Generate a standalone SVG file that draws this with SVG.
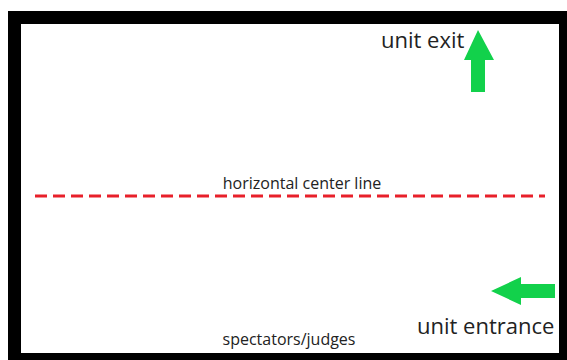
<svg xmlns="http://www.w3.org/2000/svg" width="567" height="360" viewBox="0 0 567 360">
  <style>
    .lbl { font-family: "Open Sans", "Liberation Sans", sans-serif; fill: #222222; }
    .big { font-size: 22px; }
    .small { font-size: 16px; }
    .arrow { fill: #12D14B; }
  </style>
  <rect x="0" y="0" width="567" height="360" fill="#ffffff"/>
  <g id="frame">
    <rect x="8" y="11" width="570" height="360" fill="#000000"/>
    <rect x="21" y="24" width="538" height="329" fill="#ffffff"/>
  </g>
  <g id="center-line">
    <line x1="35" y1="196" x2="545" y2="196" stroke="#E8202A" stroke-width="3" stroke-dasharray="12 6"/>
    <text class="lbl small" x="302" y="189" text-anchor="middle">horizontal center line</text>
  </g>
  <g id="unit-exit">
    <polygon class="arrow" points="478,30 494,60 485,60 485,92 471,92 471,60 464,60"/>
    <text class="lbl big" x="381" y="48">unit exit</text>
  </g>
  <g id="unit-entrance">
    <polygon class="arrow" points="491,291 521,277 521,284 555,284 555,298 521,298 521,305"/>
    <text class="lbl big" x="417" y="334">unit entrance</text>
  </g>
  <g id="spectators">
    <text class="lbl small" x="289" y="345" text-anchor="middle">spectators/judges</text>
  </g>
</svg>
